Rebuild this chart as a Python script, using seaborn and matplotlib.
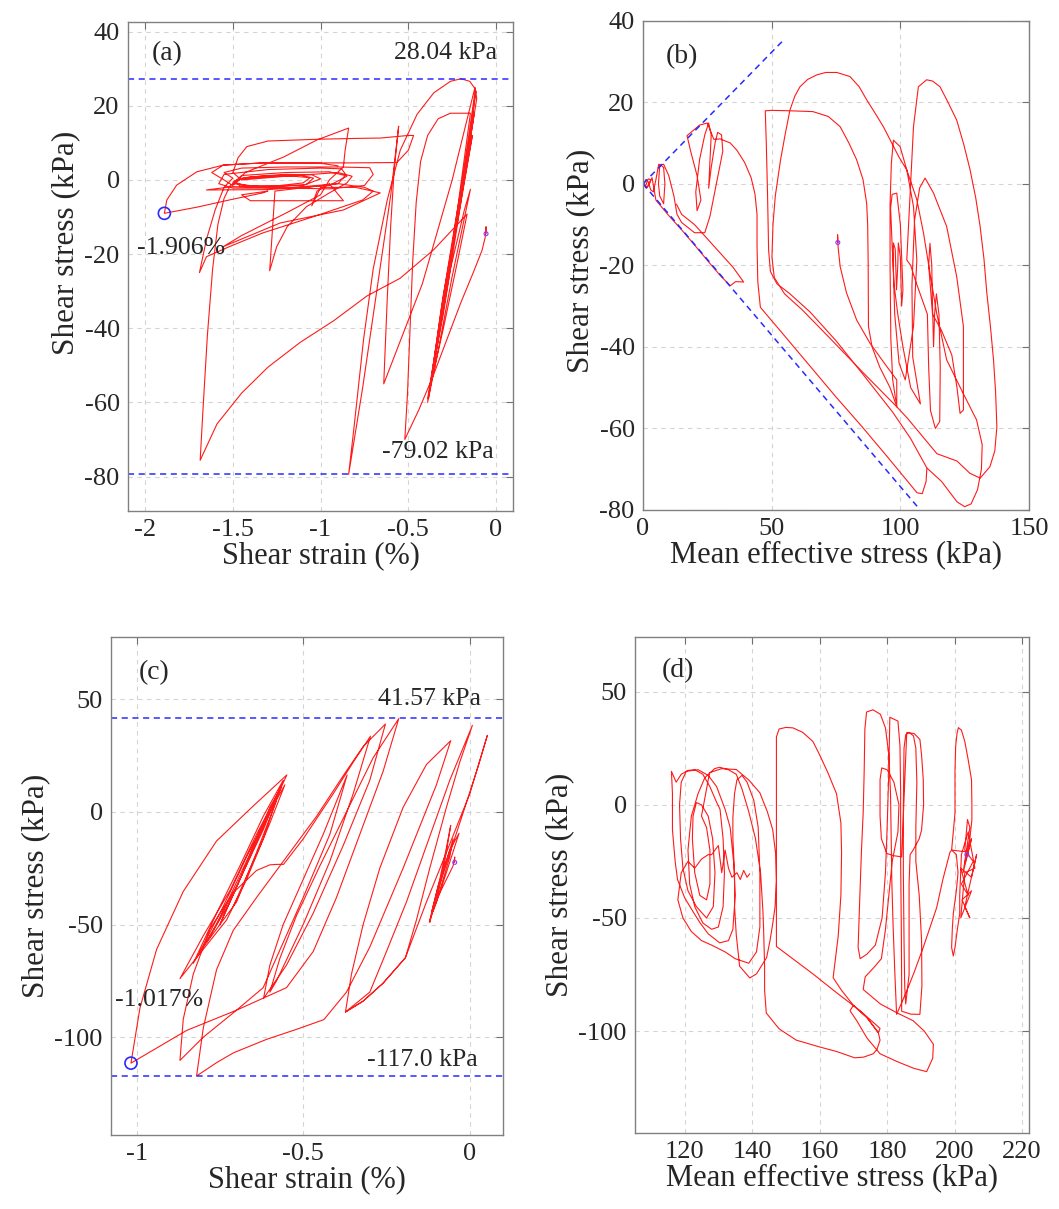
import matplotlib
matplotlib.use("Agg")
import matplotlib.pyplot as plt
import seaborn as sns
import pandas as pd
from matplotlib.ticker import FuncFormatter

sns.set_style("white")
plt.rcParams['font.family'] = ['Liberation Serif', 'DejaVu Serif']
plt.rcParams['axes.unicode_minus'] = False

# ---------------- Panel (a): shear strain (%) vs shear stress (kPa) ----------------
a_initial = [(-0.057,-14.5),(-0.057,-12.6),(-0.062,-15.5),(-0.08,-19),(-0.13,-25),(-0.2,-33),(-0.28,-43),
             (-0.36,-53),(-0.44,-62),(-0.52,-70),(-0.505,-58),(-0.49,-40),(-0.475,-22),(-0.455,-6),(-0.43,5),
             (-0.39,12),(-0.33,16.5),(-0.26,18),(-0.146,18)]
a_cluster_right = [(-0.146,18),(-0.22,-8),(-0.31,-37),(-0.385,-59),(-0.31,-34),(-0.22,-8),(-0.16,8),(-0.115,24),
                   (-0.2,-4),(-0.29,-30),(-0.36,-52),(-0.28,-27),(-0.2,-6),(-0.135,12),(-0.24,-16),(-0.33,-43),
                   (-0.38,-57),(-0.3,-31),(-0.21,-7),(-0.125,18),(-0.22,-12),(-0.3,-36),(-0.34,-46),(-0.26,-24),
                   (-0.18,-8),(-0.146,-2.5),(-0.25,-26),(-0.33,-46),(-0.39,-60),(-0.31,-36),(-0.22,-10),
                   (-0.15,10),(-0.11,22),(-0.12,25)]
a_big_loops = [(-0.12,25),(-0.25,0),(-0.42,-28),(-0.64,-55),(-0.62,-32),(-0.6,-12),(-0.58,3),(-0.555,14.5),
               (-0.6,-4),(-0.68,-30),(-0.76,-56),(-0.84,-79.4),(-0.81,-67),(-0.755,-43),(-0.70,-24),(-0.62,-5.4),
               (-0.546,8),(-0.45,17.7),(-0.355,23.5),(-0.26,26.6),(-0.2,27.3),(-0.15,26.6),(-0.118,24.5),
               (-0.2,-3),(-0.3,-33),(-0.39,-59),(-0.3,-40),(-0.22,-22),(-0.165,-9.2)]
a_diagonal = [(-0.165,-9.2),(-0.355,-18.8),(-0.546,-26.5),(-0.736,-31.3),(-0.926,-38),(-1.116,-43.8),
              (-1.30,-50.5),(-1.45,-57.5),(-1.59,-65.8),(-1.686,-75.6),(-1.67,-62),(-1.645,-42),(-1.615,-24),
              (-1.585,-12),(-1.55,-5),(-1.515,-1.5)]
a_left_cluster = [(-1.515,-1.5),(-1.45,0.3),(-1.3,0.9),(-1.15,1.0),(-1.06,0.6),(-1.1,-0.8),(-1.25,-1.6),
                  (-1.42,-1.5),(-1.5,-0.6),(-1.44,0.6),(-1.3,1.2),(-1.12,1.3),(-1.04,0.5),(-1.08,-1.2),
                  (-1.3,-1.9),(-1.46,-1.6),(-1.49,-0.2),(-1.4,0.8),(-1.2,1.5),(-1.05,1.4),(-1.0,0.3),
                  (-1.1,-1.5),(-1.35,-1.8),(-1.5,-1),(-1.45,1.2),(-1.2,2.0),(-0.95,2.2),(-0.86,1.2),(-0.9,-1),
                  (-1.2,-2.2),(-1.5,-2.2),(-1.58,-1),(-1.55,1.5),(-1.3,2.8),(-1.0,3.2),(-0.88,3.0),(-0.85,1),
                  (-0.95,-1.5),(-1.3,-2.6),(-1.6,-2.7),(-1.65,-2.7),(-1.5,-1.8),(-1.2,-2.2),(-0.95,-2.4),
                  (-0.75,-1.5),(-0.7,1.5),(-0.72,3.3),(-0.9,3.5),(-1.2,3.5),(-1.45,3.2),(-1.55,2),(-1.5,0.5),
                  (-1.55,-2),(-1.6,-8),(-1.65,-16),(-1.69,-25),(-1.65,-20.7),(-1.52,-18),(-1.33,-14.3),
                  (-1.04,-9.9),(-0.76,-5.4),(-0.7,-3),(-0.75,-2),(-0.9,-1),(-1.26,-3),(-1.275,-14),
                  (-1.29,-24.5),(-1.25,-18),(-1.19,-12.6),(-1.08,-7.2),(-0.95,-3.5),(-0.85,-0.8),(-0.82,1),
                  (-0.9,2),(-1.2,1),(-1.45,0),(-1.5,2),(-1.47,6),(-1.42,9),(-1.3,10.5),(-1.0,11),(-0.8,11.2),
                  (-0.66,11.3),(-0.5,12),(-0.47,12),(-0.5,8),(-0.565,4.7),(-0.83,4.6),(-1.1,4.6),(-1.33,4.6),
                  (-1.555,4),(-1.62,2),(-1.55,0),(-1.5,-1.5),(-1.43,2),(-1.3,4.5),(-1.21,6.2),(-1.02,10.8),
                  (-0.84,14),(-0.86,8),(-0.87,3.5),(-0.95,0),(-1.0,-4),(-1.2,-9),(-1.45,-15),(-1.555,-18),
                  (-1.23,-11.6),(-0.87,-8.1),(-0.66,-3.5),(-0.8,-2),(-1.0,-2),(-1.05,-7),(-1.02,-3),(-0.95,-1),
                  (-0.87,-5.6),(-1.40,-5.6),(-1.45,-4),(-1.3,-3)]
a_final = [(-1.3,-3),(-1.33,-3.5),(-1.52,-5.4),(-1.70,-7.3),(-1.89,-9.0),(-1.876,-5.4),(-1.82,-1.4),
           (-1.705,2.2),(-1.555,4),(-1.33,4.6),(-1.0,4.5),(-0.9,3.8)]
a_peak_stress, a_min_stress = 27.3, -79.4
a_final_point = (-1.89, -9.0)
a_start_point = (-0.057, -14.5)

# ---------------- Panel (b): mean effective stress vs shear stress ----------------
b_start = [(75.7,-14.4),(75.6,-12.5),(75.8,-15.5),(76.6,-20.3),(79.1,-26.8),(83,-33.4),(88.2,-39.1),
           (94.7,-44.8),(98.6,-48.1),(98.6,-54.7)]
b_right = [(98.6,-54.7),(97,-48),(96.3,-38),(96,-20),(96,-5),(96.5,5),(97.3,10.7),(99.9,9.1),(102.5,3.4),
           (105.1,-5.6),(106.4,-18.7),(105.1,-35),(101.9,-48.1),(99.5,-44),(97.8,-32),(97.2,-20),(97.3,-14.5),
           (98,-16),(98.5,-26),(99,-20),(99.2,-14.5),(100,-18),(100.5,-30),(101,-26),(100,-10),(98.6,-2.3),
           (96.8,-2.6),(96.2,-6),(96.8,-15),(97.6,-25),(99,-32),(101,-40),(104,-50),(107.8,-54),(104.8,-42.5),
           (104.5,-25),(105.5,-9),(107.5,-1),(109.6,1.4),(112.9,-2.3),(118,-10.5),(121.9,-22.8),(124.5,-35),
           (124.5,-55.5),(123.2,-56.3),(122,-50),(120,-42),(116,-36),(112.5,-32),(111,-20),(111.5,-14.6),
           (112.2,-20),(112.5,-30),(112.9,-40),(113.3,-32),(114,-27),(115,-32),(115.5,-45),(115.3,-58.3),
           (113.6,-60),(111.7,-55.6),(111,-45),(110.5,-32),(106,-24),(104,-20),(102.5,-18.7)]
b_big_right = [(102.5,-18.7),(103.8,-2.3),(105.1,14),(107,23.8),(110.2,25.5),(112.5,25.2),(115.4,23.8),
               (118.5,20),(121.9,15.6),(124.7,9.5),(127.1,3.4),(129.3,-3.5),(131,-10.5),(132.5,-18.5),
               (133.6,-26.8),(135,-35),(136.2,-43.2),(137,-51),(137.5,-59.6),(136.7,-65.5),(134.8,-69.4),
               (131,-72.2),(127,-71),(122,-68),(114.2,-66.2),(106,-60),(102.6,-57.4),(98.6,-54.7)]
b_big_left = [(98.6,-54.7),(85.8,-46.5),(72.8,-38),(62,-31),(55,-27),(51,-23),(50.1,-18),(50.5,-10),
              (51.4,-3),(53.4,5.7),(55.2,12),(57.1,18.1),(59,21.5),(61,23.8),(64,25.6),(67.5,26.7),(71,27.3),
              (75.3,27.3),(80.4,26.3),(84,23.8),(86.9,20.6),(90,17.5),(93.4,14),(96,10.8),(99.5,6.5),
              (102.5,3.4),(106.4,-3.9),(109,-12.1),(111.5,-21.9),(114.1,-31.7),(118,-43.2),(124.4,-51.4),
              (129.6,-57.9),(131.8,-64),(131.5,-70),(130,-75),(127.5,-78.5),(125,-79.2),(122,-78),(116,-73),
              (110.3,-69.7),(110,-73),(108.5,-76),(106.5,-75.8),(95,-67),(85,-59.5),(75,-52.3),(65,-44.8),
              (55,-37.3),(45.6,-30.3),(44.6,-24),(44.3,-15),(44.3,-7.5),(43.5,-2.5),(42,1.5),(39.5,5.2),
              (36.5,8.2),(33.9,10),(30,11),(27.5,10.9)]
b_left = [(27.5,10.9),(25,14.9),(22,14.4),(19,12.8),(17.1,11.8),(18.5,8),(21,2),(22.5,-4),(21,-6.6),(20.5,-2),
          (22,6),(24,12),(25.5,14.9),(26.5,12),(25.5,-1.1),(26.5,4),(28,10),(29,12.6),(30.5,12),(31,8),
          (28.5,0),(26,-8),(24,-12),(20,-12),(15,-9.5),(13.2,-7.5),(12,-3),(10,2),(8,4.8),(6.5,4.5),(6,0),
          (6.5,-3),(8,-4.9),(8.5,0),(8,4),(7,4.5),(6.1,4.8),(5,1),(4,-2),(3,-1.5),(2,0.5),(1,1),(0.5,0),
          (1,-1),(2,-0.5),(3,1),(2,1.2),(1,-0.5),(1.5,-1),(2.5,0),(3.5,1.5),(5,-4),(10,-7.8),(15,-11.3),
          (20,-15),(25,-18.8),(30,-22.5),(33.9,-25),(36,-24),(39.1,-24.1),(35,-20.5),(30,-17),(25,-13.5),
          (20,-10),(15,-7.5),(13,-5)]
b_flat_top = [(98.6,-54.7),(96,-50),(92,-45),(89,-40),(87.6,-35),(87.5,-20),(87.3,-10),(86.9,-4.8),
              (85.5,1),(83,5.9),(80,10),(76.6,14),(72,16.5),(66,17.7),(57.1,17.9),(50,18),(47.5,17.9),(47.9,10),
              (48.4,-3),(48.8,-16.2),(49.5,-21.5),(52,-24.5),(57.1,-27),(65,-31.5),(75,-38.5),(85.8,-47),
              (97,-56),(104,-62.5),(110.3,-69.7)]
b_upper_line = [(0, 0), (55, 35.5)]
b_lower_line = [(0, 0), (106.5, -79.1)]
b_start_point = (75.7, -14.4)

# ---------------- Panel (c): shear strain (%) vs shear stress (kPa) ----------------
c_right_cluster = [(-0.045,-22.4),(-0.045,-20),(-0.05,-24),(-0.08,-33),(-0.11,-42),(-0.12,-49),(-0.1,-38),
                   (-0.075,-22),(-0.057,-6),(-0.07,-16),(-0.09,-30),(-0.115,-45),(-0.095,-33),(-0.06,-17),
                   (-0.032,-9.5),(-0.055,-20),(-0.09,-36),(-0.11,-44),(-0.08,-27),(-0.05,-12),(-0.06,-20),
                   (-0.1,-40),(-0.12,-48)]
c_right_loops = [(-0.12,-48),(-0.09,-32),(-0.05,-14),(-0.01,4),(0.025,20),(0.053,34),(0.0,8),(-0.07,-18),
                 (-0.13,-40),(-0.193,-64.7),(-0.26,-76),(-0.32,-84),(-0.373,-88.8),(-0.32,-84),(-0.26,-76),
                 (-0.193,-64.7),(-0.16,-48),(-0.12,-25),(-0.07,2),(-0.03,22),(0.008,38.4),(-0.06,14),
                 (-0.13,-15),(-0.19,-40),(-0.25,-62),(-0.3,-80),(-0.373,-88.8),(-0.355,-72),(-0.32,-50),
                 (-0.27,-25),(-0.2,2),(-0.13,21),(-0.057,31.6),(-0.1,12),(-0.2,-25),(-0.3,-60),(-0.37,-80),
                 (-0.438,-92.2)]
c_middle = [(-0.438,-92.2),(-0.52,-96.5),(-0.609,-100.9),(-0.709,-106.9),(-0.759,-111.2),(-0.82,-117.2),
            (-0.80,-96),(-0.76,-70),(-0.71,-52.6),(-0.64,-38),(-0.55,-20),(-0.46,-2),(-0.38,16),(-0.32,29),
            (-0.253,39),(-0.3,14),(-0.38,-15),(-0.47,-45),(-0.55,-68),(-0.619,-82.8),(-0.6,-68),(-0.56,-50),
            (-0.5,-30),(-0.44,-10),(-0.368,16.4),(-0.42,-10),(-0.5,-38),(-0.56,-58),(-0.62,-78),(-0.7,-88),
            (-0.8,-100),(-0.87,-110.3),(-0.86,-92),(-0.83,-72),(-0.78,-52),(-0.71,-35.9),(-0.64,-26),
            (-0.6,-23.5),(-0.579,-23.3),(-0.559,-23.3),(-0.5,-12),(-0.41,8),(-0.35,22),(-0.298,33.6),
            (-0.35,8),(-0.42,-22),(-0.5,-50),(-0.58,-75),(-0.6,-80),(-0.57,-65),(-0.52,-46),(-0.45,-24),
            (-0.37,0),(-0.29,24),(-0.213,41.4),(-0.26,18),(-0.33,-10),(-0.4,-38),(-0.47,-62),(-0.55,-78),
            (-0.7,-88),(-0.85,-97),(-1.017,-111.5)]
c_left = [(-1.017,-111.5),(-0.99,-87),(-0.94,-61),(-0.86,-35.3),(-0.76,-12.9),(-0.65,2.6),(-0.549,16.4),
          (-0.6,0),(-0.68,-25),(-0.76,-50),(-0.83,-67.2),(-0.76,-45),(-0.69,-24),(-0.62,-2),(-0.56,14),
          (-0.62,-8),(-0.7,-33),(-0.79,-58),(-0.72,-40),(-0.66,-20),(-0.6,2),(-0.565,11),(-0.63,-10),
          (-0.72,-40),(-0.75,-50),(-0.69,-30),(-0.63,-8),(-0.58,5),(-0.64,-18),(-0.7,-40),(-0.81,-62),
          (-0.74,-42),(-0.67,-20),(-0.6,0),(-0.555,12),(-0.6,-5),(-0.67,-30),(-0.73,-48),(-0.87,-74),
          (-0.8,-55),(-0.72,-35),(-0.64,-10),(-0.57,10),(-0.62,-12),(-0.71,-42)]
c_peak_stress, c_min_stress = 41.57, -117.0
c_final_point = (-1.017, -111.5)
c_start_point = (-0.045, -22.4)

# ---------------- Panel (d): mean effective stress vs shear stress ----------------
d_right = [(203.6,-22),(204,-18),(203,-26),(205,-15),(202.5,-30),(204.5,-10),(203.8,-6.5),(203,-20),
           (205.5,-25),(202,-35),(204,-40),(201.8,-28),(205,-32),(206.5,-22),(203,-45),(204.5,-50),
           (202.2,-42),(205,-38),(201.8,-50),(203,-30),(206,-28),(204,-12),(202,-22),(201.5,-40),(201.5,-48)]
d_right_loops = [(201.5,-48),(200.8,-55),(200.1,-63),(199.6,-66.8),(199.1,-63),(199.3,-55),(199.6,-48),
                 (200.5,-38),(201,-30),(200.5,-22),(199.1,-20),(200.1,-3.6),(200.1,15),(200.3,26),(200.7,31.5),
                 (201.1,34.1),(202,33),(203,28),(204,20),(205,11),(205.1,0),(205.1,-6.7),(204.5,-15),
                 (203.6,-20.8),(199.1,-20),(198.6,-21),(196.5,-33),(194.7,-45.3),(192.5,-55),(190.7,-63),
                 (188,-74),(185.8,-82.3),(182.8,-92.6)]
d_middle = [(182.8,-92.6),(182.3,-75),(181.8,-55),(181.4,-35),(181.2,-15),(181,5),(180.5,22),(179.5,34),
            (178,40),(175.8,42),(173.9,41),(173.4,33.4),(173.2,15),(172.9,-3.6),(172.4,-20),(171.9,-40.8),
            (171.4,-63),(172,-68),(174,-66),(176.5,-62),(178.5,-50),(179.5,-30),(180,-10),(180.5,15),
            (180.8,38.7),(183.2,37),(183.8,26),(184,5),(184,-25),(184.2,-55),(184.3,-80),(184.3,-91.2),
            (187,-92.5),(189.7,-92.6),(190.3,-80),(190.2,-60),(189.5,-40),(188.5,-25),(188.5,-10),(188.8,10),
            (188.5,25),(187.8,30.5),(186.5,32),(185.5,31),(185,25),(184.8,0),(184.8,-30),(185,-60),
            (185.2,-80),(185.5,-88),(186.5,-75),(186.5,-55),(186.5,-35),(186.8,-22),(187.7,-20),
            (189.5,-15),(190.2,-11.1),(190.8,0),(190.7,11.1),(190.2,22),(189.7,28.9),(188,31.5),(185.8,31.9),
            (184.3,-23),(182,-22.5),(179.9,-21.5),(178.3,-15),(177.9,-5),(177.9,11.1),(178.4,16.3),(180,15.5),
            (182,10),(183.5,0),(183.2,-12),(181.5,-25),(180.5,-40),(179.5,-55),(178.3,-68),(176,-72),
            (173.5,-76),(172.9,-81.6)]
d_bottom = [(172.9,-81.6),(178,-88),(183,-92),(187.7,-95.4),(191,-100),(193.7,-105.8),(193.5,-112),
            (191.7,-117.9),(188,-116.5),(183,-113.5),(177.9,-110),(174,-103),(171,-95.4),(169,-91),
            (170,-88.6),(174,-94),(177.4,-100.7),(177.9,-98.8)]
d_mid_left = [(177.9,-98.8),(172,-91),(165,-83),(158,-74.7),(152,-68),(147.2,-62.6),(147.2,-40),
              (147.2,-10),(147.2,15),(147.2,30),(148,33.5),(150,34.2),(152.1,34),(155,32),(158,28),
              (160,22.1),(162.5,14),(165,4.9),(166.3,-8),(166.5,-21.1),(166.3,-40),(165.5,-58),(164,-76.4),
              (166.5,-82),(170,-88.6),(174,-94),(177.4,-100.7),(177.9,-104),(177,-108),(175.9,-110),
              (173,-111.5),(170.4,-111.8),(165,-109),(160,-107),(153.1,-104),(148,-99),(144.2,-92),
              (143.7,-82),(143.7,-71.2),(143.4,-55),(143.2,-47)]
d_left = [(143.2,-47),(142.5,-30),(141,-15),(139,-3),(137,7),(135.3,13.5),(133,15.5),(130.4,16.6),
          (128.9,16),(126,12),(124,5),(122,-5),(121,-20),(121.5,-35),(123,-45),(125.4,-52.2),(128,-55),
          (130,-54),(131.4,-45),(131.8,-30),(131.4,-15),(130.5,-2),(129.4,1.4),(127.5,8),(125.4,13.5),
          (123,15.5),(121,15.2),(119,13.5),(117.5,10),(116.1,14.8),(116.4,5),(116.4,-11),(117.2,-25),
          (117.9,-33),(120,-41),(122,-46),(124.5,-52),(127,-57),(130.4,-61),(133,-60),(134.3,-55),(135,-40),
          (134.5,-25),(133.5,-10),(132,-2),(129.5,8),(127,13),(124,15.5),(120.5,14.8),(119,10),(118.5,0),
          (118.8,-15),(119.5,-28),(121,-38),(123.5,-45),(126.5,-50),(128.5,-45),(129,-30),(128.3,-15),
          (127,-5),(125,0),(123.5,1),(122.5,-5),(122.3,-15),(123,-30),(124.5,-40),(126.5,-42),(127.5,-35),
          (127.5,-20),(126.5,-10),(125,-5),(126,3),(127.4,14.2),(131,16),(135.3,15.6),(139,11),(142.3,5.3),
          (144.5,-3),(146.1,-11),(147,-22),(147.2,-33.4),(146.8,-45),(146.1,-52.6),(145.3,-60),(144.3,-67.5),
          (141.3,-74.7),(139.3,-76.5),(136.3,-71.3),(135.3,-57.4),(134.8,-45),(134.8,-29.8),(134.3,-15),
          (134.3,-5.5),(134.8,5),(135.5,11),(137,13),(138.5,10),(140.5,2),(141.8,-10),(142.3,-29.8),
          (142.3,-54),(141.3,-65),(139,-70),(135,-68),(132,-65),(128,-62),(125,-60),(122,-56),(119.5,-50),
          (118,-42),(119,-30),(121,-25),(123,-28),(125,-24),(127,-22),(128,-22),(130,-18),(131,-30),
          (132,-20),(133,-28),(134,-32),(135.5,-30),(136.5,-33),(137.5,-29),(138.5,-32),(139.3,-30.5)]
d_start_point = (203.6, -22)

RED = '#ff1a1a'
BLUE = '#2a2aff'


def to_df(*segs):
    pts = [p for s in segs for p in s]
    return pd.DataFrame({'x': [p[0] for p in pts], 'y': [p[1] for p in pts]})


fmt = FuncFormatter(lambda v, pos: '%g' % v)


def style(ax, xlim, ylim, xticks, yticks, xlabel, ylabel, ylabel_y=0.5):
    ax.set_xlim(*xlim)
    ax.set_ylim(*ylim)
    ax.set_xticks(xticks)
    ax.set_yticks(yticks)
    ax.xaxis.set_major_formatter(fmt)
    ax.yaxis.set_major_formatter(fmt)
    ax.grid(True, color='#d4d4d4', linestyle=(0, (4, 4)), linewidth=0.8)
    ax.set_axisbelow(True)
    ax.tick_params(direction='in', top=True, right=True, length=5, width=0.8,
                   color='#707070', labelsize=19, pad=6)
    for s in ax.spines.values():
        s.set_color('#808080')
        s.set_linewidth(1.0)
    ax.set_xlabel(xlabel, fontsize=22, labelpad=0)
    ax.set_ylabel(ylabel, fontsize=22.5, labelpad=3)
    if ylabel_y != 0.5:
        fig.canvas.draw()
        x_coord = ax.yaxis.label.get_position()[0]
        ax.yaxis.label.set_y(ylabel_y)


fig = plt.figure(figsize=(10.59, 12.09), dpi=100)
ax_a = fig.add_axes([0.1209, 0.5776, 0.3636, 0.4042])
ax_b = fig.add_axes([0.6072, 0.5782, 0.3645, 0.4047])
ax_c = fig.add_axes([0.1048, 0.0612, 0.3702, 0.4119])
ax_d = fig.add_axes([0.5996, 0.0629, 0.3720, 0.4103])

LW = 0.8
LS = (0, (4, 3))


def path(ax, *segs, color=RED, lw=LW, **kw):
    sns.lineplot(data=to_df(*segs), x='x', y='y', sort=False, estimator=None,
                 color=color, lw=lw, ax=ax, **kw)


# (a)
path(ax_a, a_initial, a_cluster_right, a_big_loops, a_diagonal, a_left_cluster, a_final)
ax_a.axhline(a_peak_stress, color=BLUE, ls=LS, lw=1.1)
ax_a.axhline(a_min_stress, color=BLUE, ls=LS, lw=1.1)
ax_a.scatter([a_final_point[0]], [a_final_point[1]], s=75, facecolors='none', edgecolors=BLUE, linewidths=1.2, zorder=5)
ax_a.scatter([a_start_point[0]], [a_start_point[1]], s=8, facecolors='none', edgecolors='#8a3aff', linewidths=0.8, zorder=5)
style(ax_a, (-2.097, 0.097), (-89.2, 42.6), [-2, -1.5, -1, -0.5, 0], [40, 20, 0, -20, -40, -60, -80],
      'Shear strain (%)', 'Shear stress (kPa)', ylabel_y=0.548)
ax_a.text(-1.96, 34, '(a)', fontsize=20, ha='left', va='center')
ax_a.text(0.005, 34.2, '28.04 kPa', fontsize=18.5, ha='right', va='center')
ax_a.text(-0.012, -73.5, '-79.02 kPa', fontsize=18.5, ha='right', va='center')
ax_a.text(-2.047, -18.4, '-1.906%', fontsize=18.5, ha='left', va='center')

# (b)
path(ax_b, b_start, b_right, b_big_right, b_big_left, b_left)
path(ax_b, b_flat_top)
path(ax_b, b_upper_line, color=BLUE, lw=1.1, ls=LS)
path(ax_b, b_lower_line, color=BLUE, lw=1.1, ls=LS)
ax_b.scatter([b_start_point[0]], [b_start_point[1]], s=8, facecolors='none', edgecolors='#8a3aff', linewidths=0.8, zorder=5)
style(ax_b, (0, 150), (-80, 40), [0, 50, 100, 150], [40, 20, 0, -20, -40, -60, -80],
      'Mean effective stress (kPa)', 'Shear stress (kPa)', ylabel_y=0.51)
ax_b.text(8.7, 31.1, '(b)', fontsize=20, ha='left', va='center')

# (c)
path(ax_c, c_right_cluster, c_right_loops, c_middle, c_left)
ax_c.axhline(c_peak_stress, color=BLUE, ls=LS, lw=1.1)
ax_c.axhline(c_min_stress, color=BLUE, ls=LS, lw=1.1)
ax_c.scatter([c_final_point[0]], [c_final_point[1]], s=75, facecolors='none', edgecolors=BLUE, linewidths=1.2, zorder=5)
ax_c.scatter([c_start_point[0]], [c_start_point[1]], s=8, facecolors='none', edgecolors='#8a3aff', linewidths=0.8, zorder=5)
style(ax_c, (-1.077, 0.1), (-143.4, 77.6), [-1, -0.5, 0], [50, 0, -50, -100],
      'Shear strain (%)', 'Shear stress (kPa)')
ax_c.text(-0.995, 62, '(c)', fontsize=20, ha='left', va='center')
ax_c.text(0.033, 50, '41.57 kPa', fontsize=18.5, ha='right', va='center')
ax_c.text(0.023, -110.3, '-117.0 kPa', fontsize=18.5, ha='right', va='center')
ax_c.text(-1.065, -83.6, '-1.017%', fontsize=18.5, ha='left', va='center')

# (d)
path(ax_d, d_right, d_right_loops, d_middle, d_bottom, d_mid_left, d_left)
ax_d.scatter([d_start_point[0]], [d_start_point[1]], s=8, facecolors='none', edgecolors='#8a3aff', linewidths=0.8, zorder=5)
style(ax_d, (105.3, 222), (-145, 74.2), [120, 140, 160, 180, 200, 220], [50, 0, -50, -100],
      'Mean effective stress (kPa)', 'Shear stress (kPa)')
ax_d.text(113.1, 59.3, '(d)', fontsize=20, ha='left', va='center')

for ax in (ax_a, ax_b, ax_c, ax_d):
    if ax.get_legend() is not None:
        ax.get_legend().remove()

fig.savefig('out.png', dpi=100)
